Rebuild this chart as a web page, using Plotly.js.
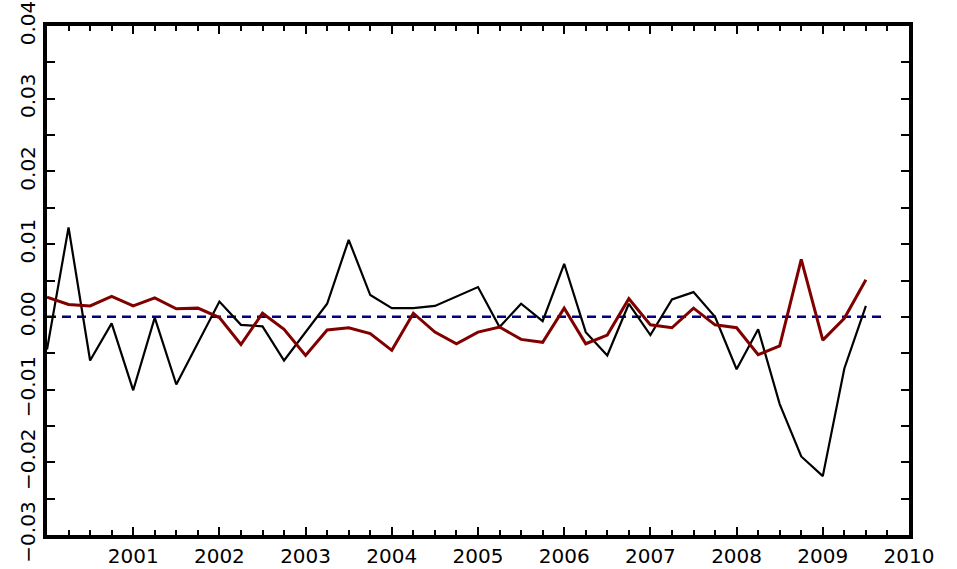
<!DOCTYPE html>
<html>
<head>
<meta charset="utf-8">
<script src="https://cdn.plot.ly/plotly-3.0.1.min.js"></script>
<style>html,body{margin:0;padding:0;background:#fff;}#chart{width:957px;height:569px;}</style>
</head>
<body>
<div id="chart"></div>
<script>
// Quarterly dates 2000.00 .. 2009.50
const quarters = [
  2000.00, 2000.25, 2000.50, 2000.75,
  2001.00, 2001.25, 2001.50, 2001.75,
  2002.00, 2002.25, 2002.50, 2002.75,
  2003.00, 2003.25, 2003.50, 2003.75,
  2004.00, 2004.25, 2004.50, 2004.75,
  2005.00, 2005.25, 2005.50, 2005.75,
  2006.00, 2006.25, 2006.50, 2006.75,
  2007.00, 2007.25, 2007.50, 2007.75,
  2008.00, 2008.25, 2008.50, 2008.75,
  2009.00, 2009.25, 2009.50
];

const blackSeries = [
  -0.0045, 0.0123, -0.0060, -0.0009,
  -0.0101, -0.0001, -0.0093, -0.0036,
  0.0021, -0.0011, -0.0013, -0.0060,
  -0.0021, 0.0018, 0.0106, 0.0030,
  0.0012, 0.0012, 0.0015, 0.0028,
  0.0041, -0.0014, 0.0018, -0.0006,
  0.0073, -0.0021, -0.0053, 0.0018,
  -0.0025, 0.0024, 0.0034, 0.0000,
  -0.0072, -0.0017, -0.0120, -0.0192,
  -0.0219, -0.0071, 0.0015
];

const redSeries = [
  0.0027, 0.0017, 0.0015, 0.0028,
  0.0015, 0.0026, 0.0011, 0.0012,
  -0.0001, -0.0038, 0.0005, -0.0017,
  -0.0053, -0.0018, -0.0015, -0.0023,
  -0.0046, 0.0005, -0.0021, -0.0037,
  -0.0021, -0.0014, -0.0031, -0.0035,
  0.0012, -0.0037, -0.0025, 0.0025,
  -0.0011, -0.0015, 0.0012, -0.0011,
  -0.0015, -0.0052, -0.0040, 0.0079,
  -0.0032, -0.0002, 0.0051
];

const zeroLineX = [2000.0, 2009.7];
const zeroLineY = [0, 0];

const xTickVals = [2001, 2002, 2003, 2004, 2005, 2006, 2007, 2008, 2009, 2010];
const xTickText = ["2001", "2002", "2003", "2004", "2005", "2006", "2007", "2008", "2009", "2010"];
const yTickVals = [-0.03, -0.02, -0.01, 0.00, 0.01, 0.02, 0.03, 0.04];
const yTickText = ["\u22120.03", "\u22120.02", "\u22120.01", "0.00", "0.01", "0.02", "0.03", "0.04"];

const traces = [
  {
    x: zeroLineX, y: zeroLineY, mode: 'lines', type: 'scatter',
    line: {color: '#000080', width: 2.5, dash: '9px,6px'},
    hoverinfo: 'skip', showlegend: false
  },
  {
    x: quarters, y: blackSeries, mode: 'lines', type: 'scatter',
    line: {color: '#000000', width: 2.2},
    showlegend: false
  },
  {
    x: quarters, y: redSeries, mode: 'lines', type: 'scatter',
    line: {color: '#800000', width: 3},
    showlegend: false
  }
];

const fontFam = '"DejaVu Sans", "Liberation Sans", sans-serif';

const layout = {
  width: 957, height: 569,
  margin: {l: 47, r: 48, t: 26, b: 34, pad: 0},
  paper_bgcolor: '#ffffff', plot_bgcolor: '#ffffff',
  showlegend: false,
  font: {family: fontFam, size: 20, color: '#000'},
  xaxis: {
    range: [2000, 2010],
    tickmode: 'array', tickvals: xTickVals, ticktext: xTickText,
    ticks: 'inside', ticklen: 8, tickwidth: 2, tickcolor: '#000',
    minor: {dtick: 0.25, tick0: 2000, ticks: 'inside', ticklen: 5, tickwidth: 2, tickcolor: '#000', showgrid: false},
    showline: true, linewidth: 4, linecolor: '#000', mirror: 'ticks',
    showgrid: false, zeroline: false,
    tickfont: {family: fontFam, size: 20, color: '#000'}
  },
  yaxis: {
    range: [-0.03, 0.04],
    tickmode: 'array', tickvals: yTickVals, ticktext: yTickText,
    ticks: 'inside', ticklen: 8, tickwidth: 2, tickcolor: '#000',
    minor: {dtick: 0.005, tick0: 0, ticks: 'inside', ticklen: 8, tickwidth: 2, tickcolor: '#000', showgrid: false},
    tickangle: -90,
    showline: true, linewidth: 4, linecolor: '#000', mirror: 'ticks',
    showgrid: false, zeroline: false,
    tickfont: {family: fontFam, size: 20, color: '#000'}
  }
};

Plotly.newPlot('chart', traces, layout, {staticPlot: true, displayModeBar: false});
</script>
</body>
</html>
